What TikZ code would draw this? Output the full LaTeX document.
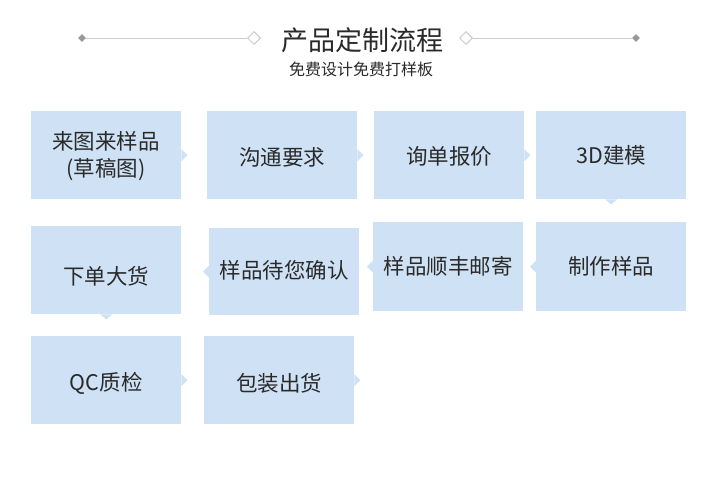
\documentclass[tikz,border=0pt]{standalone}
\usepackage{fontspec}
\setmainfont{Noto Sans CJK SC}
\usetikzlibrary{calc,shapes.geometric}
\definecolor{boxfill}{HTML}{CFE2F5}
\definecolor{txt}{HTML}{2A2A2A}
\definecolor{ln}{HTML}{CCCCCC}
\definecolor{dm}{HTML}{999999}
\newcommand\notchR[1]{\fill[boxfill] ($(#1.east)+(0,-6)$) -- ($(#1.east)+(6,0)$) -- ($(#1.east)+(0,6)$) -- cycle;}
\newcommand\notchL[1]{\fill[boxfill] ($(#1.west)+(0,-6)$) -- ($(#1.west)+(-6,0)$) -- ($(#1.west)+(0,6)$) -- cycle;}
\newcommand\notchD[1]{\fill[boxfill] ($(#1.south)+(-6,0)$) -- ($(#1.south)+(0,5)$) -- ($(#1.south)+(6,0)$) -- cycle;}
\begin{document}
\begin{tikzpicture}[x=1pt,y=-1pt,
  stepbox/.style={fill=boxfill, minimum width=150pt, minimum height=88pt, inner sep=0pt, anchor=north west},
  steptext/.style={inner sep=0pt, text=txt, font=\fontsize{21.5}{27}\selectfont, align=center},
  sdia/.style={diamond, aspect=1, fill=dm, minimum size=8pt, inner sep=0pt},
  hdia/.style={diamond, aspect=1, draw=ln, line width=1pt, fill=white, minimum size=13pt, inner sep=0pt},
  rule/.style={draw=ln, line width=1pt}]
\fill[white] (0,0) rectangle (720,482);
\useasboundingbox (0,0) rectangle (720,482);
% header
\node[text=txt, font=\fontsize{27}{30}\selectfont] (title) at (362,40) {产品定制流程};
\node[text=txt, font=\fontsize{16}{18}\selectfont] (sub) at (361,69) {免费设计免费打样板};
\node[sdia] (dl) at (82,38) {};
\node[hdia] (hl) at (254,38) {};
\node[hdia] (hr) at (466,38) {};
\node[sdia] (dr) at (636,38) {};
\draw[rule] (dl) -- (hl);
\draw[rule] (hr) -- (dr);
% boxes
\node[stepbox] (b1) at (31,111) {};
\node[stepbox] (b2) at (207,111) {};
\node[stepbox] (b3) at (374,111) {};
\node[stepbox] (b4) at (536,111) {};
\node[stepbox] (b5) at (31,226) {};
\node[stepbox, minimum height=87pt] (b6) at (209,228) {};
\node[stepbox, minimum height=89pt] (b7) at (373,222) {};
\node[stepbox, minimum height=89pt] (b8) at (536,222) {};
\node[stepbox] (b9) at (31,336) {};
\node[stepbox] (b10) at (204,336) {};
% notches
\notchR{b1}
\notchR{b2}
\notchR{b3}
\notchD{b4}
\notchL{b8}
\notchL{b7}
\notchL{b6}
\notchD{b5}
\notchR{b9}
\notchR{b10}
% texts
\node[steptext] (t1) at ($(b1)+(0,1)$) {来图来样品\\(草稿图)};
\node[steptext] (t2) at ($(b2)+(0,2)$) {沟通要求};
\node[steptext] (t3) at ($(b3)+(0,1)$) {询单报价};
\node[steptext] (t4) at ($(b4)+(0,0)$) {3D建模};
\node[steptext] (t5) at ($(b5)+(0,6)$) {下单大货};
\node[steptext] (t6) at ($(b6)+(0,-1)$) {样品待您确认};
\node[steptext] (t7) at ($(b7)+(0,0)$) {样品顺丰邮寄};
\node[steptext] (t8) at ($(b8)+(0,0)$) {制作样品};
\node[steptext] (t9) at ($(b9)+(0,3)$) {QC质检};
\node[steptext] (t10) at ($(b10)+(0,3)$) {包装出货};
\end{tikzpicture}
\end{document}
